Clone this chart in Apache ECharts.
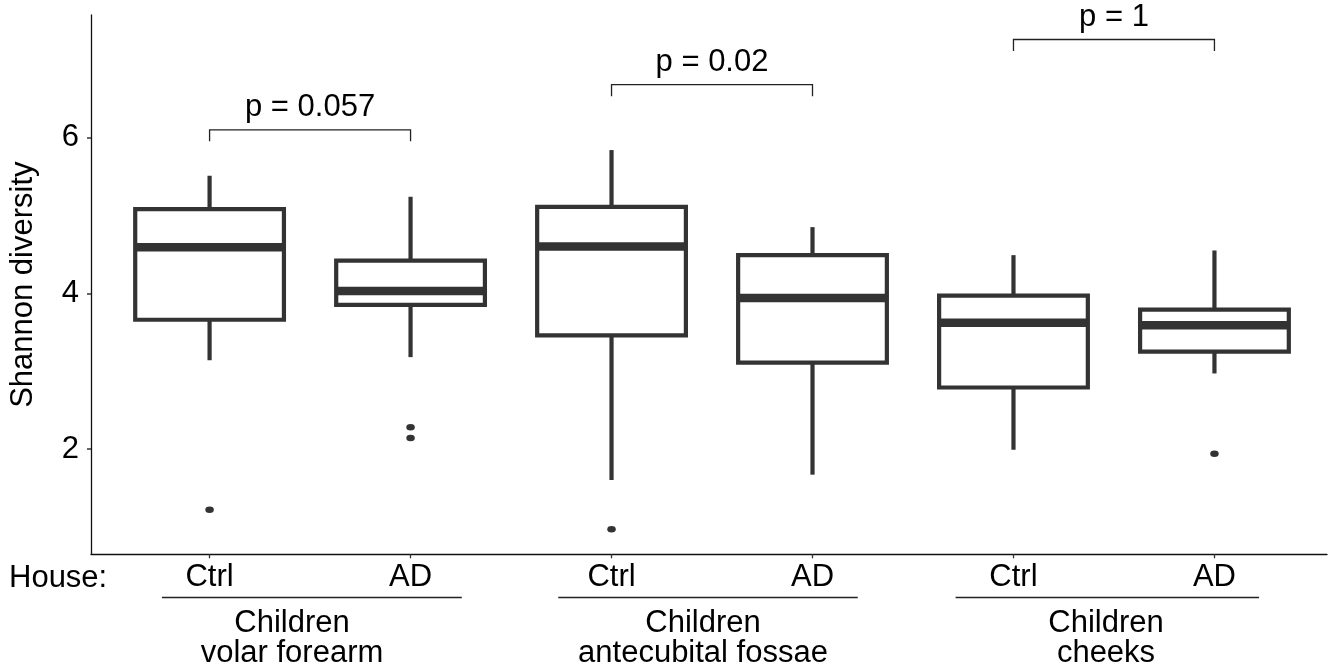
<!DOCTYPE html>
<html>
<head>
<meta charset="utf-8">
<script src="https://cdn.jsdelivr.net/npm/echarts@6/dist/echarts.min.js"></script>
<style>
  html, body { margin: 0; padding: 0; background: #fff; }
  #chart { width: 1335px; height: 671px; }
</style>
</head>
<body>
<div id="chart"></div>
<script>
// ---- data ----
const categories = ['Ctrl', 'AD', 'Ctrl', 'AD', 'Ctrl', 'AD'];
const groupLabels = ['Children\nvolar forearm', 'Children\nantecubital fossae', 'Children\ncheeks'];
const whiskerLow  = [3.14, 3.18, 1.60, 1.67, 1.99, 2.97];
const q1          = [3.66, 3.85, 3.46, 3.11, 2.79, 3.25];
const median      = [4.59, 4.03, 4.60, 3.94, 3.62, 3.59];
const q3          = [5.08, 4.42, 5.11, 4.49, 3.97, 3.79];
const whiskerHigh = [5.51, 5.24, 5.84, 4.85, 4.49, 4.55];
const outlierPos  = [1, 2, 2, 3, 6];
const outlierVal  = [1.22, 2.28, 2.14, 0.97, 1.94];
const pLabels     = ['p = 0.057', 'p = 0.02', 'p = 1'];
const pBracketY   = [6.10, 6.68, 7.26];
const pPairs      = [[1, 2], [3, 4], [5, 6]];
const yTicks      = [2, 4, 6];
const xPositions  = [1, 2, 3, 4, 5, 6];

// ---- chart ----
const FONT = '"Liberation Sans", Arial, Helvetica, sans-serif';
const FS = 31;
const INK = '#333333';

const boxData = xPositions.map((x, i) => [x, whiskerLow[i], q1[i], median[i], q3[i], whiskerHigh[i]]);
const outlierData = outlierPos.map((x, i) => [x, outlierVal[i]]);
const bracketData = pPairs.map((p, i) => [p[0], p[1], pBracketY[i], i]);

const chart = echarts.init(document.getElementById('chart'), null, { renderer: 'canvas' });

const GRID = { left: 89, top: 15, width: 1238, height: 539.3 };

const option = {
  backgroundColor: '#ffffff',
  animation: false,
  grid: GRID,
  xAxis: {
    type: 'value',
    min: 0.41,
    max: 6.56,
    splitLine: { show: false },
    axisLine: { show: true, lineStyle: { color: '#111', width: 1.3 } },
    axisTick: { show: true, customValues: xPositions, length: 4, lineStyle: { color: INK, width: 1.3 } },
    axisLabel: {
      show: true,
      customValues: xPositions,
      formatter: v => categories[Math.round(v) - 1] || '',
      fontSize: FS, fontFamily: FONT, color: '#000', margin: 8
    }
  },
  yAxis: {
    type: 'value',
    min: 0.647,
    max: 7.575,
    splitLine: { show: false },
    axisLine: { show: true, lineStyle: { color: '#111', width: 1.3 } },
    axisTick: { show: true, customValues: yTicks, length: 4, lineStyle: { color: INK, width: 1.5 } },
    axisLabel: {
      show: true, customValues: yTicks,
      fontSize: FS, fontFamily: FONT, color: '#000', margin: 12
    },
    name: 'Shannon diversity',
    nameLocation: 'middle',
    nameRotate: 90,
    nameGap: 52,
    nameTextStyle: { fontSize: FS, fontFamily: FONT, color: '#000' }
  },
  series: [
    {
      type: 'custom',
      data: boxData,
      encode: { x: 0, y: [1, 2, 3, 4, 5] },
      renderItem: function (params, api) {
        const x = api.value(0);
        const lo = api.coord([x, api.value(1)]);
        const b1 = api.coord([x, api.value(2)]);
        const md = api.coord([x, api.value(3)]);
        const b3 = api.coord([x, api.value(4)]);
        const hi = api.coord([x, api.value(5)]);
        const half = api.size([0.74, 0])[0] / 2;
        const cx = lo[0];
        const lw = 4.2;
        return {
          type: 'group',
          children: [
            { type: 'line', shape: { x1: cx, y1: hi[1], x2: cx, y2: b3[1] }, style: { stroke: INK, lineWidth: lw } },
            { type: 'line', shape: { x1: cx, y1: b1[1], x2: cx, y2: lo[1] }, style: { stroke: INK, lineWidth: lw } },
            { type: 'rect', shape: { x: cx - half, y: b3[1], width: half * 2, height: b1[1] - b3[1] },
              style: { fill: '#ffffff', stroke: INK, lineWidth: lw } },
            { type: 'line', shape: { x1: cx - half, y1: md[1], x2: cx + half, y2: md[1] },
              style: { stroke: INK, lineWidth: 8.5 } }
          ]
        };
      },
      z: 2
    },
    {
      type: 'scatter',
      data: outlierData,
      symbol: 'circle',
      symbolSize: [8.5, 6.5],
      itemStyle: { color: INK, opacity: 1 },
      z: 3
    },
    {
      type: 'custom',
      data: bracketData,
      clip: false,
      encode: { x: [0, 1], y: 2 },
      renderItem: function (params, api) {
        const y = api.value(2);
        const a = api.coord([api.value(0), y]);
        const b = api.coord([api.value(1), y]);
        const tip = 11.5;
        const label = pLabels[api.value(3)];
        return {
          type: 'group',
          children: [
            { type: 'polyline',
              shape: { points: [[a[0], a[1] + tip], [a[0], a[1]], [b[0], b[1]], [b[0], b[1] + tip]] },
              style: { stroke: '#222', lineWidth: 1.3, fill: null } },
            { type: 'text',
              style: { x: (a[0] + b[0]) / 2, y: a[1] - 22, text: label, fontSize: FS, fontFamily: FONT,
                       fill: '#000', align: 'center', verticalAlign: 'middle' } }
          ]
        };
      },
      z: 4
    }
  ]
};
chart.setOption(option);

// ---- nested x-axis labels (House / group) ----
function px(x) { return chart.convertToPixel({ gridIndex: 0 }, [x, 1])[0]; }
const lineY = 597.5;
const gfx = [
  { type: 'text', left: 9, top: 578 - FS * 0.5,
    style: { text: 'House:', fontSize: FS, fontFamily: FONT, fill: '#000' } }
];
const groupSpans = [[0.763, 2.255], [2.735, 4.225], [4.712, 6.222]];
const groupLabelX = [292, 703, 1106];
groupSpans.forEach((s, i) => {
  gfx.push({ type: 'line', shape: { x1: px(s[0]), y1: lineY, x2: px(s[1]), y2: lineY },
             style: { stroke: '#222', lineWidth: 1.3 } });
  gfx.push({ type: 'text', x: groupLabelX[i], y: 608,
             style: { text: groupLabels[i], fontSize: FS, fontFamily: FONT, fill: '#000',
                      align: 'center', verticalAlign: 'top', lineHeight: 30 } });
});
chart.setOption({ graphic: gfx });
</script>
</body>
</html>
